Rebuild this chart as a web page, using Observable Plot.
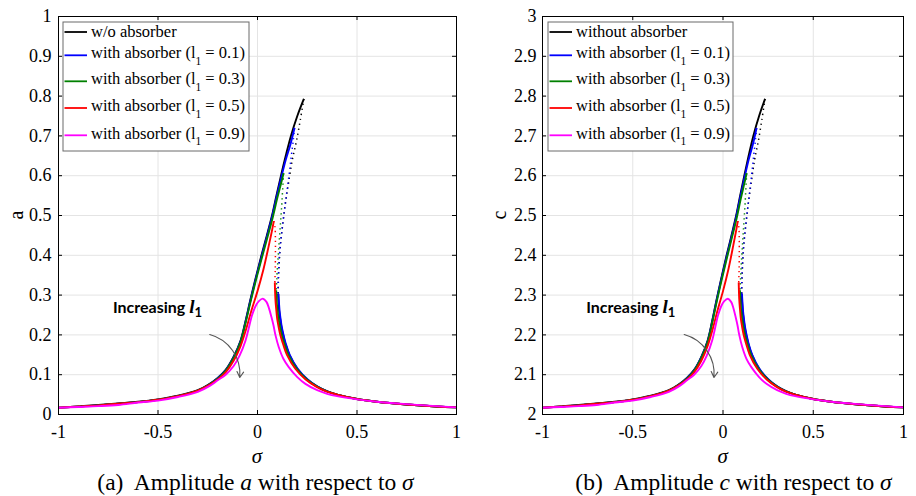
<!DOCTYPE html>
<html><head><meta charset="utf-8">
<script src="https://cdn.jsdelivr.net/npm/d3@7"></script>
<script src="https://cdn.jsdelivr.net/npm/@observablehq/plot@0.6"></script>
<style>
body{margin:0;background:#fff;}
#wrap{position:relative;width:916px;height:496px;overflow:hidden;font-family:"Liberation Serif","Times New Roman",serif;color:#000;}
.panel{position:absolute;top:0;}
#wrap .panel text, #wrap .panel tspan{font-family:"Liberation Serif","Times New Roman",serif !important;}
#wrap .panel text.ann, #wrap .panel text.ann tspan{font-family:Lato,"Noto Sans",sans-serif !important;}
#wrap .panel text.ann tspan.ml{font-family:"Liberation Serif",serif !important;}
.cap{position:absolute;font-size:23.5px;line-height:26px;white-space:pre;transform:translateX(-50%);}
.xl{position:absolute;font-size:21px;line-height:24px;font-style:italic;transform:translateX(-50%);}
</style></head>
<body><div id="wrap"></div>
<script>
// ---------- axis ticks ----------
const xTicks = [-1, -0.5, 0, 0.5, 1];
const xTickLabels = ["-1", "-0.5", "0", "0.5", "1"];
const xGrid = [-0.5, 0, 0.5];
const aTicks = [0, 0.1, 0.2, 0.3, 0.4, 0.5, 0.6, 0.7, 0.8, 0.9, 1];
const aTickLabels = ["0", "0.1", "0.2", "0.3", "0.4", "0.5", "0.6", "0.7", "0.8", "0.9", "1"];
const cTicks = [2, 2.1, 2.2, 2.3, 2.4, 2.5, 2.6, 2.7, 2.8, 2.9, 3];
const cTickLabels = ["2", "2.1", "2.2", "2.3", "2.4", "2.5", "2.6", "2.7", "2.8", "2.9", "3"];

// ---------- series (sigma) ----------
const sigBlackUp = [-0.89,-0.8,-0.7,-0.6,-0.5,-0.4,-0.3,-0.25,-0.2,-0.16,-0.12,-0.085,-0.06,-0.035,-0.008,0.02,0.047,0.073,0.095,0.118,0.142,0.168,0.2,0.233];
const sigBlackUn = [0.233,0.215,0.195,0.175,0.157,0.14,0.125,0.114,0.108,0.105,0.104];
const sigBlackLo = [0.104,0.106,0.109,0.114,0.12,0.13,0.14,0.16,0.2,0.25,0.3,0.35,0.4,0.5,0.6,0.75,0.9,1];
const sigBlueUp = [-1,-0.9,-0.8,-0.7,-0.6,-0.5,-0.4,-0.3,-0.25,-0.2,-0.16,-0.12,-0.085,-0.06,-0.035,-0.008,0.02,0.047,0.073,0.095,0.118,0.142,0.165,0.186];
const sigBlueUn = [0.186,0.18,0.17,0.158,0.145,0.132,0.12,0.112,0.107,0.104,0.103];
const sigBlueLo = [0.105,0.108,0.111,0.116,0.122,0.132,0.142,0.162,0.202,0.252,0.302,0.352,0.4,0.5,0.6,0.75,0.9,1];
const sigGreenUp = [-1,-0.9,-0.8,-0.7,-0.6,-0.5,-0.4,-0.3,-0.25,-0.2,-0.16,-0.12,-0.085,-0.06,-0.035,-0.008,0.02,0.047,0.073,0.1,0.118,0.131];
const sigGreenUn = [0.131,0.127,0.121,0.114,0.107,0.101,0.097,0.095,0.094];
const sigGreenLo = [0.094,0.097,0.101,0.106,0.113,0.123,0.135,0.155,0.197,0.248,0.3,0.35,0.4,0.5,0.6,0.75,0.9,1];
const sigRedUp = [-1,-0.9,-0.8,-0.7,-0.6,-0.5,-0.4,-0.3,-0.25,-0.2,-0.16,-0.12,-0.085,-0.06,-0.03,0,0.03,0.057,0.072,0.082];
const sigRedUn = [0.082,0.088,0.09,0.09,0.089,0.087];
const sigRedLo = [0.087,0.09,0.094,0.099,0.106,0.116,0.128,0.148,0.19,0.242,0.295,0.345,0.4,0.5,0.6,0.75,0.9,1];
const sigMag = [-1,-0.9,-0.8,-0.7,-0.6,-0.5,-0.4,-0.3,-0.24,-0.2,-0.16,-0.12,-0.09,-0.06,-0.045,-0.027,-0.01,0.007,0.027,0.045,0.057,0.07,0.08,0.09,0.107,0.13,0.157,0.2,0.241,0.3,0.35,0.4,0.5,0.6,0.75,0.9,1];

// ---------- amplitude a ----------
const aBlackUp = [0.021,0.024,0.028,0.032,0.038,0.047,0.061,0.074,0.092,0.112,0.145,0.186,0.235,0.29,0.345,0.4,0.45,0.5,0.55,0.6,0.65,0.7,0.75,0.793];
const aBlackUn = [0.793,0.74,0.685,0.64,0.585,0.53,0.47,0.42,0.37,0.335,0.303];
const aBlackLo = [0.303,0.28,0.26,0.24,0.22,0.197,0.178,0.15,0.115,0.088,0.07,0.058,0.05,0.039,0.032,0.025,0.02,0.018];
const aBlueUp = [0.017,0.02,0.023,0.027,0.031,0.037,0.046,0.06,0.073,0.091,0.111,0.144,0.184,0.233,0.287,0.342,0.396,0.446,0.496,0.545,0.593,0.64,0.678,0.72];
const aBlueUn = [0.72,0.69,0.65,0.6,0.55,0.5,0.45,0.41,0.37,0.335,0.303];
const aBlueLo = [0.303,0.28,0.26,0.24,0.22,0.197,0.178,0.15,0.115,0.088,0.07,0.058,0.05,0.039,0.032,0.025,0.02,0.018];
const aGreenUp = [0.017,0.02,0.023,0.027,0.031,0.037,0.046,0.06,0.073,0.09,0.11,0.142,0.182,0.23,0.283,0.337,0.39,0.44,0.488,0.545,0.58,0.606];
const aGreenUn = [0.606,0.57,0.52,0.47,0.42,0.375,0.34,0.32,0.312];
const aGreenLo = [0.312,0.28,0.26,0.24,0.22,0.197,0.178,0.15,0.115,0.088,0.07,0.058,0.05,0.039,0.032,0.025,0.02,0.018];
const aRedUp = [0.017,0.02,0.023,0.027,0.031,0.037,0.046,0.06,0.072,0.088,0.106,0.135,0.172,0.21,0.262,0.31,0.365,0.425,0.46,0.486];
const aRedUn = [0.486,0.47,0.44,0.4,0.36,0.332];
const aRedLo = [0.332,0.29,0.265,0.24,0.22,0.197,0.178,0.15,0.115,0.088,0.07,0.058,0.05,0.039,0.032,0.025,0.02,0.018];
const aMag = [0.017,0.019,0.021,0.024,0.03,0.035,0.044,0.057,0.072,0.086,0.1,0.122,0.148,0.186,0.215,0.25,0.272,0.285,0.291,0.283,0.268,0.245,0.225,0.2,0.169,0.14,0.119,0.094,0.077,0.061,0.052,0.046,0.038,0.032,0.026,0.021,0.018];

// ---------- amplitude c ----------
const cBlackUp = [2.021,2.024,2.028,2.032,2.038,2.047,2.061,2.074,2.092,2.112,2.145,2.186,2.235,2.29,2.345,2.4,2.45,2.5,2.55,2.6,2.65,2.7,2.75,2.793];
const cBlackUn = [2.793,2.74,2.685,2.64,2.585,2.53,2.47,2.42,2.37,2.335,2.303];
const cBlackLo = [2.303,2.28,2.26,2.24,2.22,2.197,2.178,2.15,2.115,2.088,2.07,2.058,2.05,2.039,2.032,2.025,2.02,2.018];
const cBlueUp = [2.017,2.02,2.023,2.027,2.031,2.037,2.046,2.06,2.073,2.091,2.111,2.144,2.184,2.233,2.287,2.342,2.396,2.446,2.496,2.545,2.593,2.64,2.678,2.72];
const cBlueUn = [2.72,2.69,2.65,2.6,2.55,2.5,2.45,2.41,2.37,2.335,2.303];
const cBlueLo = [2.303,2.28,2.26,2.24,2.22,2.197,2.178,2.15,2.115,2.088,2.07,2.058,2.05,2.039,2.032,2.025,2.02,2.018];
const cGreenUp = [2.017,2.02,2.023,2.027,2.031,2.037,2.046,2.06,2.073,2.09,2.11,2.142,2.182,2.23,2.283,2.337,2.39,2.44,2.488,2.545,2.58,2.606];
const cGreenUn = [2.606,2.57,2.52,2.47,2.42,2.375,2.34,2.32,2.312];
const cGreenLo = [2.312,2.28,2.26,2.24,2.22,2.197,2.178,2.15,2.115,2.088,2.07,2.058,2.05,2.039,2.032,2.025,2.02,2.018];
const cRedUp = [2.017,2.02,2.023,2.027,2.031,2.037,2.046,2.06,2.072,2.088,2.106,2.135,2.172,2.21,2.262,2.31,2.365,2.425,2.46,2.486];
const cRedUn = [2.486,2.47,2.44,2.4,2.36,2.332];
const cRedLo = [2.332,2.29,2.265,2.24,2.22,2.197,2.178,2.15,2.115,2.088,2.07,2.058,2.05,2.039,2.032,2.025,2.02,2.018];
const cMag = [2.017,2.019,2.021,2.024,2.03,2.035,2.044,2.057,2.072,2.086,2.1,2.122,2.148,2.186,2.215,2.25,2.272,2.285,2.291,2.283,2.268,2.245,2.225,2.2,2.169,2.14,2.119,2.094,2.077,2.061,2.052,2.046,2.038,2.032,2.026,2.021,2.018];

// ---------- legend / annotation ----------
const seriesColors = ["#000000", "#0000ff", "#008000", "#ff0000", "#ff00ff"];
const legendNamesA = ["w/o absorber", "with absorber", "with absorber", "with absorber", "with absorber"];
const legendNamesC = ["without absorber", "with absorber", "with absorber", "with absorber", "with absorber"];
const l1Values = ["", "0.1", "0.3", "0.5", "0.9"];
const annotTextA = [-0.724, 0.253];
const annotArrowA = [-0.24, 0.201, -0.089, 0.093];
const annotTextC = [-0.755, 2.253];
const annotArrowC = [-0.215, 2.201, -0.05, 2.093];

function pts(sig, val) { return sig.map((s, i) => ({x: s, y: val[i]})); }

function makeSegs(v) {
  return [
    {c: 0, dash: false, d: pts(sigBlackUp, v.blackUp)},
    {c: 0, dash: true,  d: pts(sigBlackUn, v.blackUn)},
    {c: 0, dash: false, d: pts(sigBlackLo, v.blackLo)},
    {c: 1, dash: false, d: pts(sigBlueUp, v.blueUp)},
    {c: 1, dash: true,  d: pts(sigBlueUn, v.blueUn)},
    {c: 1, dash: false, d: pts(sigBlueLo, v.blueLo)},
    {c: 2, dash: false, d: pts(sigGreenUp, v.greenUp)},
    {c: 2, dash: true,  d: pts(sigGreenUn, v.greenUn)},
    {c: 2, dash: false, d: pts(sigGreenLo, v.greenLo)},
    {c: 3, dash: false, d: pts(sigRedUp, v.redUp)},
    {c: 3, dash: true,  d: pts(sigRedUn, v.redUn)},
    {c: 3, dash: false, d: pts(sigRedLo, v.redLo)},
    {c: 4, dash: false, d: pts(sigMag, v.mag)}
  ];
}

const FONT = "Liberation Serif, serif";

function makePanel(cfg) {
  const innerW = cfg.width - cfg.mL - cfg.mR;
  const innerH = 496 - 16 - 82;
  const segs = makeSegs(cfg.vals);
  const svg = Plot.plot({
    width: cfg.width, height: 496,
    marginLeft: cfg.mL, marginRight: cfg.mR, marginTop: 16, marginBottom: 82,
    style: {fontFamily: FONT, fontSize: "18px", background: "transparent", overflow: "visible"},
    x: {domain: [-1, 1]},
    y: {domain: cfg.yDomain},
    marks: [
      Plot.gridX(xGrid, {stroke: "#e4e4e4", strokeOpacity: 1, strokeWidth: 1}),
      Plot.gridY(cfg.yTicks, {stroke: "#e4e4e4", strokeOpacity: 1, strokeWidth: 1}),
      ...segs.map(s => Plot.line(s.d, {
        x: "x", y: "y", stroke: seriesColors[s.c], curve: "catmull-rom",
        strokeWidth: s.dash ? 1.5 : 1.9,
        strokeDasharray: s.dash ? "1.3,3.7" : "none",
        strokeLinecap: "butt"
      })),
      Plot.arrow([cfg.arrow], {x1: d => d[0], y1: d => d[1], x2: d => d[2], y2: d => d[3],
        bend: 40, stroke: "#555555", strokeWidth: 1.1, headLength: 9}),
      Plot.tickX(xTicks, {x: d => d, insetTop: innerH - 4, stroke: "black"}),
      Plot.tickX(xTicks, {x: d => d, insetBottom: innerH - 4, stroke: "black"}),
      Plot.tickY(cfg.yTicks, {y: d => d, insetLeft: innerW - 4, stroke: "black"}),
      Plot.tickY(cfg.yTicks, {y: d => d, insetRight: innerW - 4, stroke: "black"}),
      Plot.axisX(xTicks, {tickSize: 0, tickPadding: 11, label: null, fontSize: 18,
        tickFormat: d => xTickLabels[xTicks.indexOf(d)]}),
      Plot.axisY(cfg.yTicks, {tickSize: 0, tickPadding: cfg.yPad, label: null, fontSize: 18,
        tickFormat: d => cfg.yTickLabels[cfg.yTicks.indexOf(d)]}),
      Plot.frame({stroke: "black", strokeWidth: 1})
    ]
  });
  const xs = svg.scale("x"), ys = svg.scale("y");
  const root = d3.select(svg);

  // y label
  root.append("text").attr("transform", `translate(${cfg.ylabX},215) rotate(-90)`)
    .attr("text-anchor", "middle").attr("font-size", 20)
    .text(cfg.ylabel);

  // legend
  const L = cfg.legend;
  const g = root.append("g").attr("text-anchor", "start");
  g.append("rect").attr("x", L.x).attr("y", 22).attr("width", L.w).attr("height", 129)
    .attr("fill", "white").attr("stroke", "#6a6a6a").attr("stroke-width", 1);
  const lineYs = [32, 55.3, 81.3, 108, 135.3];
  const baseYs = [37.3, 58, 84, 111.3, 138.7];
  cfg.names.forEach((name, i) => {
    g.append("line").attr("x1", L.x + 1.5).attr("x2", L.x + 24).attr("y1", lineYs[i]).attr("y2", lineYs[i])
      .attr("stroke", seriesColors[i]).attr("stroke-width", 1.8);
    const t = g.append("text").attr("x", L.x + 28).attr("y", baseYs[i]).attr("text-anchor", "start")
      .attr("font-size", 16.5);
    if (i === 0) { t.text(name); }
    else {
      t.append("tspan").text(name + " (l");
      t.append("tspan").attr("dy", 6.5).attr("font-size", 11.5).text("1");
      t.append("tspan").attr("dy", -6.5).text(" = " + l1Values[i] + ")");
    }
  });

  // annotation text
  const at = root.append("text").attr("class", "ann")
    .attr("x", xs.apply(cfg.annot[0])).attr("y", ys.apply(cfg.annot[1]))
    .attr("text-anchor", "start").attr("font-weight", "bold").attr("font-size", 16);
  at.append("tspan").text("Increasing ");
  at.append("tspan").attr("class", "ml").attr("font-style", "italic").attr("font-size", 19).text("l");
  at.append("tspan").attr("dy", 3.5).attr("font-size", 13).text("1");
  return svg;
}

const wrap = document.getElementById("wrap");

const left = makePanel({
  width: 458, mL: 58, mR: 2, yDomain: [0, 1], yTicks: aTicks, yTickLabels: aTickLabels, yPad: 7,
  ylabel: "a", ylabX: 23, names: legendNamesA, legend: {x: 63, w: 186},
  annot: annotTextA, arrow: annotArrowA,
  vals: {blackUp: aBlackUp, blackUn: aBlackUn, blackLo: aBlackLo, blueUp: aBlueUp, blueUn: aBlueUn, blueLo: aBlueLo,
         greenUp: aGreenUp, greenUn: aGreenUn, greenLo: aGreenLo, redUp: aRedUp, redUn: aRedUn, redLo: aRedLo, mag: aMag}
});
left.classList.add("panel"); left.style.left = "0px";
wrap.appendChild(left);

const right = makePanel({
  width: 458, mL: 84, mR: 13, yDomain: [2, 3], yTicks: cTicks, yTickLabels: cTickLabels, yPad: 6,
  ylabel: "c", ylabX: 48, names: legendNamesC, legend: {x: 90, w: 185},
  annot: annotTextC, arrow: annotArrowC,
  vals: {blackUp: cBlackUp, blackUn: cBlackUn, blackLo: cBlackLo, blueUp: cBlueUp, blueUn: cBlueUn, blueLo: cBlueLo,
         greenUp: cGreenUp, greenUn: cGreenUn, greenLo: cGreenLo, redUp: cRedUp, redUn: cRedUn, redLo: cRedLo, mag: cMag}
});
right.classList.add("panel"); right.style.left = "458px";
wrap.appendChild(right);

// axis titles and captions
function addDiv(cls, html, x, y) {
  const d = document.createElement("div");
  d.className = cls; d.innerHTML = html; d.style.left = x + "px"; d.style.top = y + "px";
  wrap.appendChild(d);
}
addDiv("xl", "σ", 257, 444);
addDiv("xl", "σ", 722.7, 444);
addDiv("cap", "(a)  Amplitude <i>a</i> with respect to <i>σ</i>", 255.5, 469);
addDiv("cap", "(b)  Amplitude <i>c</i> with respect to <i>σ</i>", 733.5, 469);
</script>
</body></html>
